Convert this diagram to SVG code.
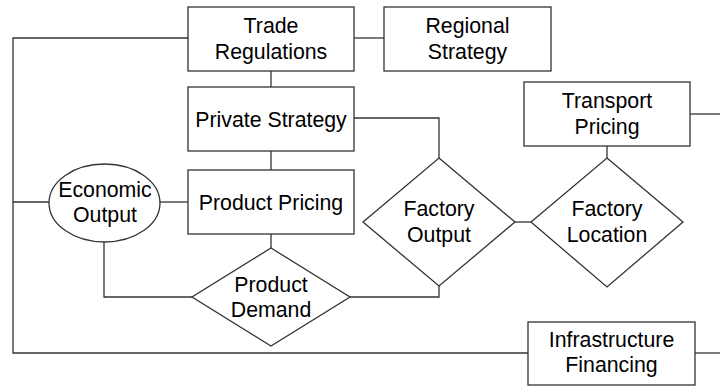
<svg xmlns="http://www.w3.org/2000/svg" width="720" height="386" viewBox="0 0 720 386">
<style>
.s{fill:#fff;stroke:#333;stroke-width:1.3}
.c{fill:none;stroke:#333;stroke-width:1.3}
text{font-family:"Liberation Sans",Arial,sans-serif;font-size:21.3px;fill:#000;text-anchor:middle}
</style>
<rect width="720" height="386" fill="#fff"/>
<g id="connectors">
<path class="c" d="M188,38 H13 V353 H528"/>
<path class="c" d="M354,38 H384"/>
<path class="c" d="M271,71 V87"/>
<path class="c" d="M271,151 V170"/>
<path class="c" d="M354,118 H439 V158"/>
<path class="c" d="M271,234 V248"/>
<path class="c" d="M13,202 H49"/>
<path class="c" d="M160,202 H188"/>
<path class="c" d="M104,242 V297 H192"/>
<path class="c" d="M350,297 H439 V286"/>
<path class="c" d="M515,222 H531"/>
<path class="c" d="M607,146 V158"/>
<path class="c" d="M690,114 H720"/>
<path class="c" d="M695,353 H720"/>
</g>
<g id="trade-regulations">
<rect class="s" x="188" y="7" width="166" height="64"/>
<text x="271" y="33">Trade</text>
<text x="271" y="59">Regulations</text>
</g>
<g id="regional-strategy">
<rect class="s" x="384" y="7" width="167" height="64"/>
<text x="467.5" y="33">Regional</text>
<text x="467.5" y="59">Strategy</text>
</g>
<g id="private-strategy">
<rect class="s" x="188" y="87" width="166" height="64"/>
<text x="271" y="126.5">Private Strategy</text>
</g>
<g id="product-pricing">
<rect class="s" x="188" y="170" width="166" height="64"/>
<text x="271" y="209.5">Product Pricing</text>
</g>
<g id="economic-output">
<ellipse class="s" cx="104.5" cy="203" rx="55.5" ry="39"/>
<text x="105" y="197">Economic</text>
<text x="105" y="222">Output</text>
</g>
<g id="product-demand">
<polygon class="s" points="271,248 350,297 271,346 192,297"/>
<text x="271" y="292">Product</text>
<text x="271" y="317">Demand</text>
</g>
<g id="factory-output">
<polygon class="s" points="439,158 515,222 439,286 363,222"/>
<text x="439" y="216">Factory</text>
<text x="439" y="242">Output</text>
</g>
<g id="factory-location">
<polygon class="s" points="607,158 683,222 607,287 531,222"/>
<text x="607" y="216">Factory</text>
<text x="607" y="242">Location</text>
</g>
<g id="transport-pricing">
<rect class="s" x="524" y="82" width="166" height="64"/>
<text x="607" y="108">Transport</text>
<text x="607" y="134">Pricing</text>
</g>
<g id="infrastructure-financing">
<rect class="s" x="528" y="322" width="167" height="63"/>
<text x="611.5" y="347">Infrastructure</text>
<text x="611.5" y="372">Financing</text>
</g>
</svg>
